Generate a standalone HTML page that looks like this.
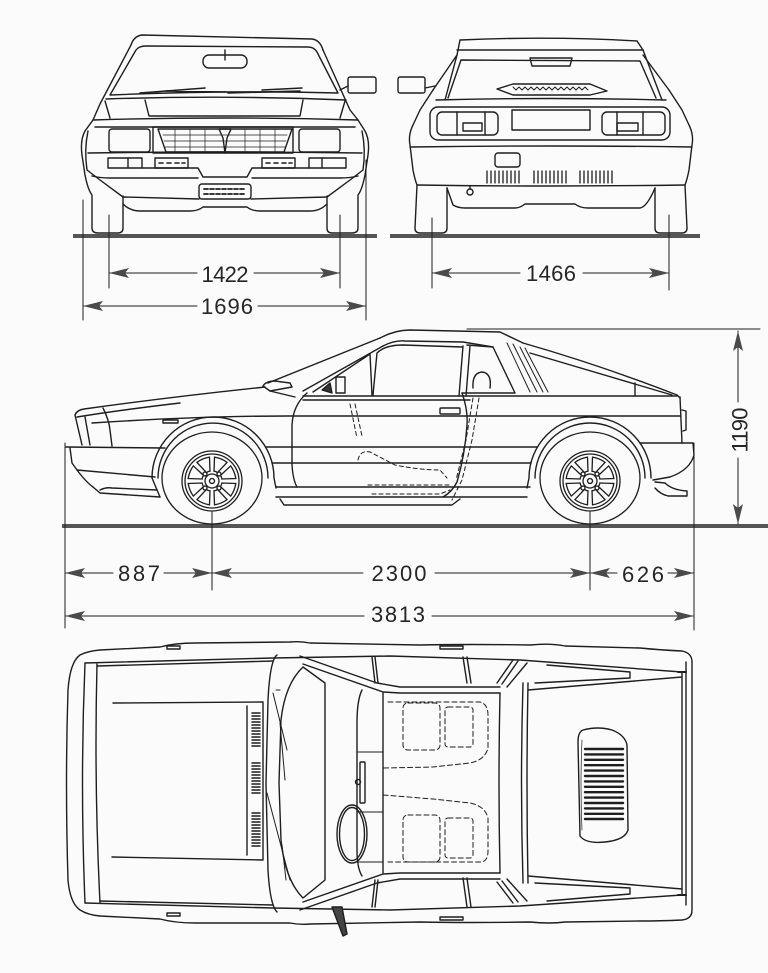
<!DOCTYPE html>
<html><head><meta charset="utf-8">
<style>
html,body{margin:0;padding:0;background:#fbfbfb;}
svg{display:block;}
text{font-family:"Liberation Sans","DejaVu Sans",sans-serif;font-size:22px;fill:#262626;}
</style></head><body>
<svg width="768" height="973" viewBox="0 0 768 973" xmlns="http://www.w3.org/2000/svg">
<defs>
<g id="wheel" fill="none" stroke="#1e1e1e" stroke-width="1.3">
  <ellipse cx="0" cy="-3" rx="50" ry="46"/>
  <circle r="30"/>
  <circle r="27"/>
  <circle r="7"/>
  <circle r="2.5"/>
  <path id="win" d="M9.85,-1.9 L23,-6.8 Q24.6,0 23,6.8 L9.85,1.9 Q10.5,0 9.85,-1.9 Z" transform="rotate(22.5)"/>
  <path d="M9.85,-1.9 L23,-6.8 Q24.6,0 23,6.8 L9.85,1.9 Q10.5,0 9.85,-1.9 Z" transform="rotate(67.5)"/>
  <path d="M9.85,-1.9 L23,-6.8 Q24.6,0 23,6.8 L9.85,1.9 Q10.5,0 9.85,-1.9 Z" transform="rotate(112.5)"/>
  <path d="M9.85,-1.9 L23,-6.8 Q24.6,0 23,6.8 L9.85,1.9 Q10.5,0 9.85,-1.9 Z" transform="rotate(157.5)"/>
  <path d="M9.85,-1.9 L23,-6.8 Q24.6,0 23,6.8 L9.85,1.9 Q10.5,0 9.85,-1.9 Z" transform="rotate(202.5)"/>
  <path d="M9.85,-1.9 L23,-6.8 Q24.6,0 23,6.8 L9.85,1.9 Q10.5,0 9.85,-1.9 Z" transform="rotate(247.5)"/>
  <path d="M9.85,-1.9 L23,-6.8 Q24.6,0 23,6.8 L9.85,1.9 Q10.5,0 9.85,-1.9 Z" transform="rotate(292.5)"/>
  <path d="M9.85,-1.9 L23,-6.8 Q24.6,0 23,6.8 L9.85,1.9 Q10.5,0 9.85,-1.9 Z" transform="rotate(337.5)"/>
  <circle cx="-7" cy="-7" r="2"/><circle cx="7" cy="-7" r="2"/>
  <circle cx="-7" cy="7" r="2"/><circle cx="7" cy="7" r="2"/>
</g>
</defs>
<rect width="768" height="973" fill="#fbfbfb"/>

<!-- ground lines -->
<rect x="73" y="234" width="304" height="4" fill="#555"/>
<rect x="390" y="234" width="310" height="4" fill="#555"/>
<rect x="62" y="524" width="706" height="4" fill="#555"/>

<g fill="none" stroke="#1e1e1e" stroke-width="1.4" stroke-linejoin="round" stroke-linecap="round">

<!-- ============ FRONT VIEW ============ -->
<path d="M131,45 Q134,36 142,35 L312,39 Q320,40 323,50"/>
<path d="M131,45 L100,104 L93,120"/>
<path d="M323,50 L350,110 L358,120"/>
<path d="M110,95 L136,50 Q139,46 146,46 L308,47 Q314,47 317,52 L338,93 Q225,90 110,95 Z"/>
<rect x="203" y="55" width="44" height="13" rx="6"/>
<path d="M225,50 L225,60"/>
<path d="M140,93 L205,88 M165,91 L226,92 M228,93 L300,91 M262,90 L302,88" stroke-width="1.6"/>
<path d="M106,99 Q225,95 346,100"/>
<path d="M105,101 L110,118 M145,100 L149,116 L300,116 L303,100 M345,101 L340,118"/>
<path d="M93,120 Q225,116 358,120"/>
<rect x="348" y="77" width="28" height="16" rx="2"/>
<path d="M340,90 L348,86"/>
<!-- sides -->
<path d="M93,120 L85,131 Q80,140 82,155 L85,175 Q88,190 92,195 L92,228 Q92,233 98,233 L118,233 Q123,233 123,228 L123,196"/>
<path d="M358,120 L365,131 Q370,140 368,155 L365,175 Q362,190 358,195 L358,228 Q358,233 352,233 L332,233 Q327,233 327,228 L327,196"/>
<path d="M88,131 Q84,150 87,170 L100,180 L123,197"/>
<path d="M362,131 Q366,150 363,170 L350,180 L327,197"/>
<!-- lamps & grille -->
<path d="M95,127 L355,127"/>
<path d="M88,153 Q225,151 362,153"/>
<rect x="109" y="129" width="41" height="23" rx="3"/>
<rect x="299" y="129" width="41" height="23" rx="3"/>
<rect x="153" y="127" width="140" height="26"/>
<path d="M158,129 L292,129 L284,152 L166,152 Z"/>
<path d="M163,135 L287,135 M164,141 L286,141 M165,147 L285,147" stroke-width="0.8"/>
<path d="M175,129 L175,152 M190,129 L190,152 M205,129 L205,152 M245,129 L245,152 M260,129 L260,152 M275,129 L275,152" stroke-width="0.7"/>
<path d="M219,129 L231,129 L227,138 L225,153 L223,138 Z"/>
<!-- bumper -->
<rect x="108" y="158" width="34" height="10"/>
<path d="M128,158 L128,168"/>
<rect x="155" y="158" width="33" height="10"/>
<path d="M159,163 L163,163 M167,163 L171,163 M175,163 L179,163 M182,163 L185,163" stroke-width="1.6"/>
<rect x="262" y="158" width="33" height="10"/>
<path d="M266,163 L270,163 M274,163 L278,163 M282,163 L286,163 M289,163 L292,163" stroke-width="1.6"/>
<rect x="309" y="158" width="37" height="10"/>
<path d="M322,158 L322,168"/>
<path d="M142,168 L198,168 L203,177 L247,177 L252,168 L309,168"/>
<path d="M92,176 Q100,178 110,178 L198,178 M252,178 L340,178 Q350,178 358,176"/>
<rect x="199" y="184" width="52" height="15" rx="3"/>
<path d="M204,189 L246,189 M204,194 L246,194" stroke-width="1.8" stroke-dasharray="4 2"/>
<path d="M123,197 L199,199 M251,199 L327,197"/>
<path d="M123,204 Q130,211 140,211 L190,211 Q198,211 203,207 L247,207 Q252,211 260,211 L310,211 Q320,211 327,204"/>
<!-- dim ext lines front -->
<path d="M109,215 L109,288 M340,215 L340,288 M83,200 L83,320 M366,160 L366,320" stroke-width="1"/>
<path d="M109,273 L197,273 M254,273 L340,273 M83,306 L197,306 M258,306 L366,306" stroke-width="1"/>

<!-- ============ REAR VIEW ============ -->
<path d="M445,100 L457,55 L460,40 Q550,36 637,41 L643,50 L662,100"/>
<path d="M457,50 L643,50"/>
<path d="M433,90 L457,55 M669,90 L643,55"/>
<path d="M448,98 L461,60 L640,61 L656,98"/>
<path d="M530,58 L572,58 L570,66 L532,66 Z"/>
<path d="M497,89 L513,84 L590,84 L607,91 L590,95 L513,95 Z"/>
<path d="M513,87 l3,3 l3,-3 l3,3 l3,-3 l3,3 l3,-3 l3,3 l3,-3 l3,3 l3,-3 l3,3 l3,-3 l3,3 l3,-3 l3,3 l3,-3 l3,3 l3,-3 l3,3 l3,-3 l3,3 l3,-3 l3,3 l3,-3 l3,3" stroke-width="1"/>
<path d="M436,100 Q551,97 666,100"/>
<rect x="398" y="77" width="27" height="16" rx="2"/>
<path d="M425,88 L435,86"/>
<path d="M433,90 L420,110 L413,125 Q408,135 410,145 L413,170 Q415,180 417,185 L415,228 Q415,233 420,233 L442,233 Q447,233 447,228 L447,188"/>
<path d="M669,90 L682,110 L689,125 Q694,135 692,145 L689,170 Q687,180 685,185 L687,228 Q687,233 682,233 L660,233 Q655,233 655,228 L655,188"/>
<rect x="430" y="107" width="240" height="33" rx="8"/>
<rect x="437" y="112" width="61" height="23" rx="5"/>
<path d="M457,112 L457,135 M485,112 L485,135"/>
<rect x="463" y="123" width="19" height="8"/>
<rect x="512" y="110" width="78" height="20"/>
<rect x="602" y="112" width="63" height="23" rx="5"/>
<path d="M617,112 L617,135 M643,112 L643,135"/>
<rect x="617" y="123" width="21" height="8"/>
<path d="M410,147 Q551,145 692,147"/>
<rect x="495" y="153" width="25" height="14" rx="3"/>
<path d="M417,185 Q551,187 685,185"/>
<path d="M487,171 L487,183 M491,171 L491,183 M495,171 L495,183 M499,171 L499,183 M503,171 L503,183 M507,171 L507,183 M511,171 L511,183 M515,171 L515,183 M519,171 L519,183
M534,171 L534,183 M538,171 L538,183 M542,171 L542,183 M546,171 L546,183 M550,171 L550,183 M554,171 L554,183 M558,171 L558,183 M562,171 L562,183 M566,171 L566,183
M580,171 L580,183 M584,171 L584,183 M588,171 L588,183 M592,171 L592,183 M596,171 L596,183 M600,171 L600,183 M604,171 L604,183 M608,171 L608,183 M612,171 L612,183" stroke-width="1.3"/>
<circle cx="470" cy="192" r="3"/>
<path d="M470,186 L470,189"/>
<path d="M447,188 L453,205 Q458,208 465,208 L515,208 Q520,208 525,204 L575,204 Q580,208 588,208 L640,208 Q647,207 655,188"/>
<path d="M432,218 L432,288 M669,215 L669,290" stroke-width="1"/>
<path d="M432,273 L520,273 M583,273 L669,273" stroke-width="1"/>

<!-- ============ SIDE VIEW ============ -->
<path d="M75,415 Q77,410 84,409 Q170,397 265,387"/>
<path d="M77,417 Q120,410 180,403"/>
<path d="M92,423 Q200,416 288,416 L680,416"/>
<path d="M75,415 L82,445 M85,417 L90,445"/>
<path d="M103,408 Q109,420 110,430 L112,446"/>
<rect x="163" y="420" width="15" height="3"/>
<path d="M66,447 L165,448"/>
<path d="M70,448 L72,463 L77,470 Q86,482 93,487 L100,493 L160,497"/>
<path d="M77,470 L155,477"/>
<path d="M100,490 Q106,487 112,488 L157,490"/>
<path d="M160,497 L152,478 A61,61 0 0 1 274,478 L276,488"/>
<path d="M158,478 A55,55 0 0 1 268,478"/>
<path d="M266,447 L537,447 M272,463 L531,463 M276,487 L530,487 M276,497 L527,497"/>
<path d="M280,499 L284,505 L452,505 L460,499"/>
<path d="M527,488 L529,478 A61,61 0 0 1 651,478"/>
<path d="M535,478 A55,55 0 0 1 645,478"/>
<path d="M640,443 L693,443 L694,455 Q690,470 670,477 L653,480"/>
<path d="M655,482 L665,483 Q672,490 687,491 L687,496 L668,496 Q660,494 655,488"/>
<path d="M680,397 L682,443"/>
<path d="M682,410 L686,411 L686,430 L683,431"/>
<path d="M523,343 Q600,365 677,395 L680,398"/>
<path d="M530,353 L672,395"/>
<path d="M303,396 L677,396 M303,400 L470,400"/>
<path d="M635,383 L635,396"/>
<path d="M507,343 L530,392 M513,344 L537,392 M520,347 L543,392 M525,348 L548,392" stroke-width="1"/>
<path d="M467,345 L493,347 L515,393 L462,393"/>
<path d="M463,346 L459,396 M470,346 L466,396"/>
<path d="M373,395 L377,353 Q385,345 403,345 L462,347"/>
<path d="M313,392 L370,354 L372,395"/>
<rect x="336" y="377" width="9" height="16"/>
<path d="M322,390 L330,383 L332,393 Z" fill="#333"/>
<path d="M268,383 L380,338 M303,391 L383,346"/>
<path d="M380,338 Q395,330 410,330 L500,332 L523,343"/>
<path d="M383,346 Q395,340 405,341 L463,342 L493,347"/>
<path d="M263,386 Q266,381 275,381 L290,383 L292,387 L270,391 Z"/>
<path d="M270,391 L295,397"/>
<path d="M307,393 Q293,405 292,425 L292,465 Q293,480 297,487"/>
<path d="M462,393 Q468,410 467,425 Q465,455 457,482 Q452,492 443,497"/>
<rect x="440" y="408" width="20" height="6" rx="1"/>
<path d="M473,388 Q472,373 482,372 Q492,373 490,388"/>
<g stroke-dasharray="4 3" stroke-width="1">
<path d="M350,404 L357,438 M355,404 L362,436"/>
<path d="M479,398 L472,440 L462,480 L452,500 M473,398 L466,440 L456,480"/>
<path d="M358,460 Q360,450 370,452 L395,465 Q420,470 440,470 L447,478"/>
<path d="M368,485 L450,485 M372,494 L440,494 L450,490"/>
</g>
<path d="M65,443 L65,628 M212,512 L212,590 M590,512 L590,590 M694,443 L694,630" stroke-width="1"/>
<path d="M467,329 L760,329" stroke-width="1"/>
<path d="M738,331 L738,402 M738,458 L738,524" stroke-width="1"/>
<path d="M65,573 L113,573 M164,573 L212,573 M212,573 L363,573 M435,573 L590,573 M590,573 L617,573 M668,573 L694,573" stroke-width="1"/>
<path d="M65,616 L364,616 M432,616 L694,616" stroke-width="1"/>

<!-- ============ TOP VIEW ============ -->
<path d="M80,655 Q88,651 100,650 L160,647 Q175,643 195,643 L290,642 Q300,641 310,643 L420,645 Q470,644 530,645 Q550,643 565,646 L640,648 Q660,650 682,651 Q692,653 692,662 L692,910 Q692,919 682,920 Q660,921 640,921 L565,922 Q550,924 530,922 Q470,923 420,922 L310,924 Q300,925 290,923 L195,923 Q175,923 160,919 L100,916 Q88,915 80,910 Q70,903 68,880 Q65,783 68,690 Q70,662 80,655 Z"/>
<path d="M85,663 Q80,783 85,903"/>
<path d="M97,664 Q94,783 100,903"/>
<path d="M85,663 L273,658 L390,656 L520,660 L682,672"/>
<path d="M97,666 L273,661"/>
<path d="M85,903 L273,908 L390,910 L520,906 L682,895"/>
<path d="M100,901 L273,905"/>
<rect x="167" y="646" width="13" height="3"/>
<rect x="167" y="913" width="13" height="3"/>
<rect x="440" y="646" width="23" height="3"/>
<rect x="440" y="917" width="23" height="3"/>
<path d="M113,703 L263,702 L263,860 L112,857"/>
<path d="M247,706 L247,855"/>
<path d="M252,713 L260,713 M252,716 L260,716 M252,719 L260,719 M252,722 L260,722 M252,725 L260,725 M252,728 L260,728 M252,731 L260,731 M252,734 L260,734 M252,737 L260,737 M252,740 L260,740 M252,743 L260,743 M252,746 L260,746
M252,763 L260,763 M252,766 L260,766 M252,769 L260,769 M252,772 L260,772 M252,775 L260,775 M252,778 L260,778 M252,781 L260,781 M252,784 L260,784 M252,787 L260,787 M252,790 L260,790 M252,793 L260,793
M252,813 L260,813 M252,816 L260,816 M252,819 L260,819 M252,822 L260,822 M252,825 L260,825 M252,828 L260,828 M252,831 L260,831 M252,834 L260,834 M252,837 L260,837 M252,840 L260,840 M252,843 L260,843 M252,846 L260,846" stroke-width="1.5"/>
<path d="M277,655 Q270,660 268,700 L266,783 L268,870 Q270,905 277,912"/>
<path d="M303,667 L325,683 L325,880 L303,898 Q285,880 281,840 L279,783 L281,720 Q285,684 303,667 Z"/>
<path d="M273,693 L287,750 M276,690 L280,690 M280,723 L285,780 M267,793 L290,880 M282,845 L286,880" stroke-width="1"/>
<path d="M300,656 L377,683 L400,687 L500,687"/>
<path d="M303,664 L383,692 L400,693 L500,693"/>
<path d="M300,910 L377,883 L400,879 L500,879"/>
<path d="M303,902 L383,874 L400,873 L500,873"/>
<path d="M362,690 Q357,700 357,723 L357,850 Q357,868 362,876"/>
<path d="M383,693 L383,873"/>
<path d="M500,693 Q498,783 500,873"/>
<path d="M523,683 Q520,783 523,883"/>
<path d="M528,683 Q526,783 528,883"/>
<path d="M372,657 L375,683 M375,657 L378,683"/>
<path d="M463,657 L467,683 M467,657 L471,683"/>
<path d="M513,660 L497,683 M518,661 L502,684 M527,663 L507,687"/>
<path d="M372,907 L375,880 M375,907 L378,880"/>
<path d="M467,907 L463,878 M471,907 L467,878"/>
<path d="M513,903 L497,882 M518,902 L502,881 M527,901 L507,879"/>
<path d="M547,665 L630,672 L630,678 L535,683"/>
<path d="M528,690 L682,677"/>
<path d="M547,901 L630,894 L630,888 L535,883"/>
<path d="M528,876 L682,889"/>
<path d="M682,672 L682,895"/>
<path d="M686,662 L686,905"/>
<path d="M678,672 L686,672 M678,895 L686,895" stroke-width="2"/>
<path d="M583,730 Q598,726 612,730 Q625,735 627,745 L628,830 Q625,840 605,842 Q586,844 580,836 L578,742 Q578,732 583,730 Z"/>
<path d="M585,749 L623,749 M585,754.4 L623,754.4 M585,759.8 L623,759.8 M585,765.2 L623,765.2 M585,770.6 L623,770.6 M585,776 L623,776 M585,781.4 L623,781.4 M585,786.8 L623,786.8 M585,792.2 L623,792.2 M585,797.6 L623,797.6 M585,803 L623,803 M585,808.4 L623,808.4 M585,813.8 L623,813.8 M585,819 L623,819" stroke-width="2.4"/>
<path d="M582,740 Q580,783 582,830" stroke-width="0.7"/>
<g stroke-dasharray="5 3" stroke-width="1">
<path d="M388,702 L480,702 Q488,704 488,715 L488,748 Q485,760 470,763 L433,767 L383,768"/>
<rect x="403" y="703" width="37" height="47" rx="5"/>
<rect x="445" y="707" width="28" height="40" rx="3"/>
<path d="M383,795 L433,799 L470,803 Q485,806 488,818 L488,851 Q488,862 480,862 L388,862"/>
<rect x="403" y="815" width="37" height="47" rx="5"/>
<rect x="445" y="818" width="28" height="40" rx="3"/>
</g>
<path d="M358,752 L383,752 M358,812 L383,812 M358,862 L383,862" stroke-width="1"/>
<rect x="360" y="762" width="5" height="41" rx="1"/>
<circle cx="358" cy="782" r="2.5"/>
<ellipse cx="352" cy="834" rx="15" ry="29"/>
<ellipse cx="352" cy="834" rx="12.5" ry="26.5"/>
<path d="M332,907 L342,907 L347,934 L343,936 Z" fill="#444"/>
</g>

<use href="#wheel" transform="translate(212,481)"/>
<use href="#wheel" transform="translate(590,481)"/>

<g fill="#4a4a4a">
<polygon points="109,273 129,268 125,273 129,278"/>
<polygon points="340,273 320,268 324,273 320,278"/>
<polygon points="83,306 103,301 99,306 103,311"/>
<polygon points="366,306 346,301 350,306 346,311"/>
<polygon points="432,273 452,268 448,273 452,278"/>
<polygon points="669,273 649,268 653,273 649,278"/>
<polygon points="65,573 85,568 81,573 85,578"/>
<polygon points="212,573 192,568 196,573 192,578"/>
<polygon points="212,573 232,568 228,573 232,578"/>
<polygon points="590,573 570,568 574,573 570,578"/>
<polygon points="590,573 610,568 606,573 610,578"/>
<polygon points="694,573 674,568 678,573 674,578"/>
<polygon points="65,616 85,611 81,616 85,621"/>
<polygon points="694,616 674,611 678,616 674,621"/>
<polygon points="738,331 733,351 738,347 743,351"/>
<polygon points="738,524 733,504 738,508 743,504"/>
</g>

<text x="225" y="282" text-anchor="middle" textLength="47" lengthAdjust="spacing">1422</text>
<text x="227" y="314" text-anchor="middle" textLength="52" lengthAdjust="spacing">1696</text>
<text x="551" y="281" text-anchor="middle" textLength="50" lengthAdjust="spacing">1466</text>
<text x="139" y="581" text-anchor="middle" textLength="42" lengthAdjust="spacing">887</text>
<text x="399" y="581" text-anchor="middle" textLength="55" lengthAdjust="spacing">2300</text>
<text x="643" y="582" text-anchor="middle" textLength="42" lengthAdjust="spacing">626</text>
<text x="398" y="622" text-anchor="middle" textLength="54" lengthAdjust="spacing">3813</text>
<text transform="translate(747.5,430) rotate(-90)" x="0" y="0" text-anchor="middle" textLength="45" lengthAdjust="spacing">1190</text>
</svg>
</body></html>
